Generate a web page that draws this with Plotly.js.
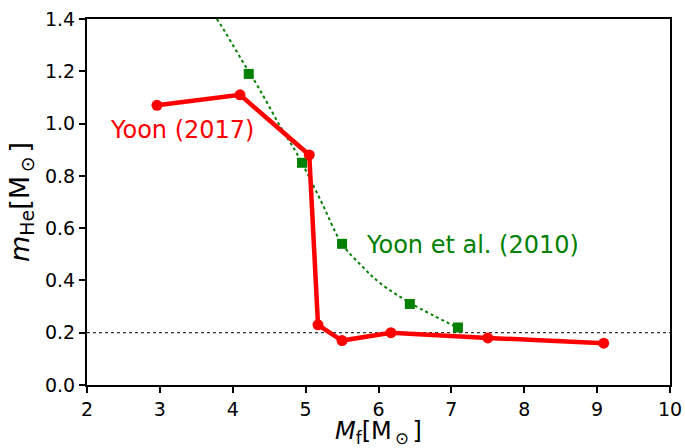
<!DOCTYPE html>
<html>
<head>
<meta charset="utf-8">
<script src="https://cdn.plot.ly/plotly-3.0.1.min.js"></script>
<style>html,body{margin:0;padding:0;background:#fff;}#chart{width:685px;height:448px;}</style>
</head>
<body>
<div id="chart"></div>
<script>
// Yoon (2017)
const yoon2017X = [2.96, 4.10, 5.05, 5.17, 5.50, 6.17, 7.50, 9.09];
const yoon2017Y = [1.07, 1.11, 0.88, 0.23, 0.17, 0.20, 0.18, 0.16];
// Yoon et al. (2010) squares
const yoon2010X = [4.22, 4.95, 5.50, 6.43, 7.09];
const yoon2010Y = [1.19, 0.85, 0.54, 0.31, 0.22];
// Dotted fit curve
const fitX = [3.78, 3.83, 4.13, 4.37, 4.65, 4.89, 5.20, 5.50, 5.79, 6.02, 6.46, 7.08];
const fitY = [1.40, 1.38, 1.24, 1.13, 0.99, 0.88, 0.71, 0.54, 0.45, 0.39, 0.31, 0.22];
const refLevel = 0.2;
const xTicks = [2, 3, 4, 5, 6, 7, 8, 9, 10];
const yTicks = [0.0, 0.2, 0.4, 0.6, 0.8, 1.0, 1.2, 1.4];

const font = "DejaVu Sans, sans-serif";
const traces = [
  {x: [2, 10], y: [refLevel, refLevel], mode: 'lines', line: {color: 'black', width: 1, dash: 'dot'}, hoverinfo: 'skip'},
  {x: fitX, y: fitY, mode: 'lines', line: {color: 'green', width: 2, dash: 'dot', shape: 'spline'}},
  {x: yoon2010X, y: yoon2010Y, mode: 'markers', marker: {color: 'green', symbol: 'square', size: 10}},
  {x: yoon2017X, y: yoon2017Y, mode: 'lines+markers', line: {color: 'red', width: 4.5}, marker: {color: 'red', size: 11}}
];
const layout = {
  width: 685, height: 448,
  margin: {l: 87, r: 15, t: 19, b: 63},
  showlegend: false,
  paper_bgcolor: 'white', plot_bgcolor: 'white',
  font: {family: font, color: 'black', size: 19},
  xaxis: {
    range: [2, 10], tickvals: xTicks, ticktext: xTicks.map(String),
    showgrid: false, zeroline: false, showline: true, mirror: true, linecolor: 'black', linewidth: 2,
    ticks: 'outside', ticklen: 6, tickwidth: 2, tickcolor: 'black',
    tickfont: {size: 19, family: font}
  },
  yaxis: {
    range: [0, 1.4], tickvals: yTicks, ticktext: yTicks.map(v => v.toFixed(1)),
    showgrid: false, zeroline: false, showline: true, mirror: true, linecolor: 'black', linewidth: 2,
    ticks: 'outside', ticklen: 6, tickwidth: 2, tickcolor: 'black',
    tickfont: {size: 19, family: font},
    title: {text: '<i>m</i><sub>He</sub>[M<sub>\u2009\u2299\u2009</sub>]', font: {size: 27, family: font}, standoff: 8}
  },
  annotations: [
    {x: 0.5, y: -0.13, xref: 'paper', yref: 'paper', text: '<i>M</i><sub>f</sub>[M<sub>\u2009\u2299\u2009</sub>]', showarrow: false, xanchor: 'center', yanchor: 'middle', font: {size: 24, family: font, color: 'black'}},
    {x: 2.29, y: 0.975, xref: 'x', yref: 'y', text: 'Yoon (2017)', showarrow: false, xanchor: 'left', yanchor: 'middle', font: {color: 'red', size: 24, family: font}},
    {x: 5.80, y: 0.536, xref: 'x', yref: 'y', text: 'Yoon et al. (2010)', showarrow: false, xanchor: 'left', yanchor: 'middle', font: {color: 'green', size: 24, family: font}}
  ]
};
Plotly.newPlot('chart', traces, layout, {displayModeBar: false, staticPlot: true});
</script>
</body>
</html>
